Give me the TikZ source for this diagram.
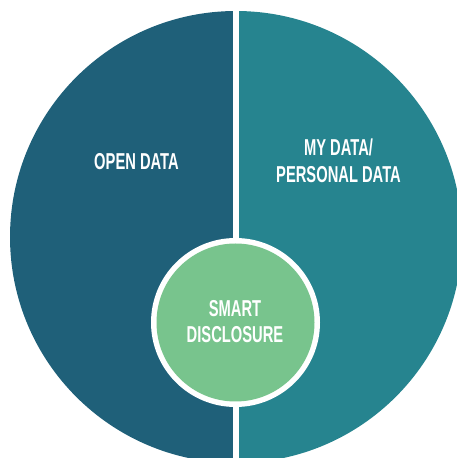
\documentclass[tikz,border=0pt]{standalone}
\usepackage{fontspec}
\setmainfont[FakeStretch=0.64]{Liberation Sans}
\definecolor{leftblue}{HTML}{1F6079}
\definecolor{rightteal}{HTML}{26848F}
\definecolor{smartgreen}{HTML}{78C48D}
\begin{document}
\begin{tikzpicture}[x=1pt,y=1pt,
  lbl/.style={text=white,font=\fontsize{23}{26.5}\selectfont\bfseries,align=center,inner sep=0pt}]
\useasboundingbox (0,0) rectangle (457,458);
\clip (0,0) rectangle (457,458);
\coordinate (bigc) at (236,221);
\begin{scope}
  \clip (-10,-10) rectangle (236,470);
  \fill[leftblue] (bigc) circle[radius=226];
\end{scope}
\begin{scope}
  \clip (236,-10) rectangle (470,470);
  \fill[rightteal] (bigc) circle[radius=226];
\end{scope}
\draw[white,line width=6] (236,-10) -- (236,470);
\node[circle,fill=white,minimum size=169,inner sep=0pt] (ring) at (235.5,135.5) {};
\node[circle,fill=smartgreen,minimum size=158,inner sep=0pt] (smart) at (235.5,135.5) {};
\node[lbl] (open) at (136.5,296.5) {OPEN DATA};
\node[lbl] (my) at (338.5,297) {MY DATA/\\PERSONAL DATA};
\node[lbl] (sd) at (235,136.5) {SMART\\DISCLOSURE};
\end{tikzpicture}
\end{document}
